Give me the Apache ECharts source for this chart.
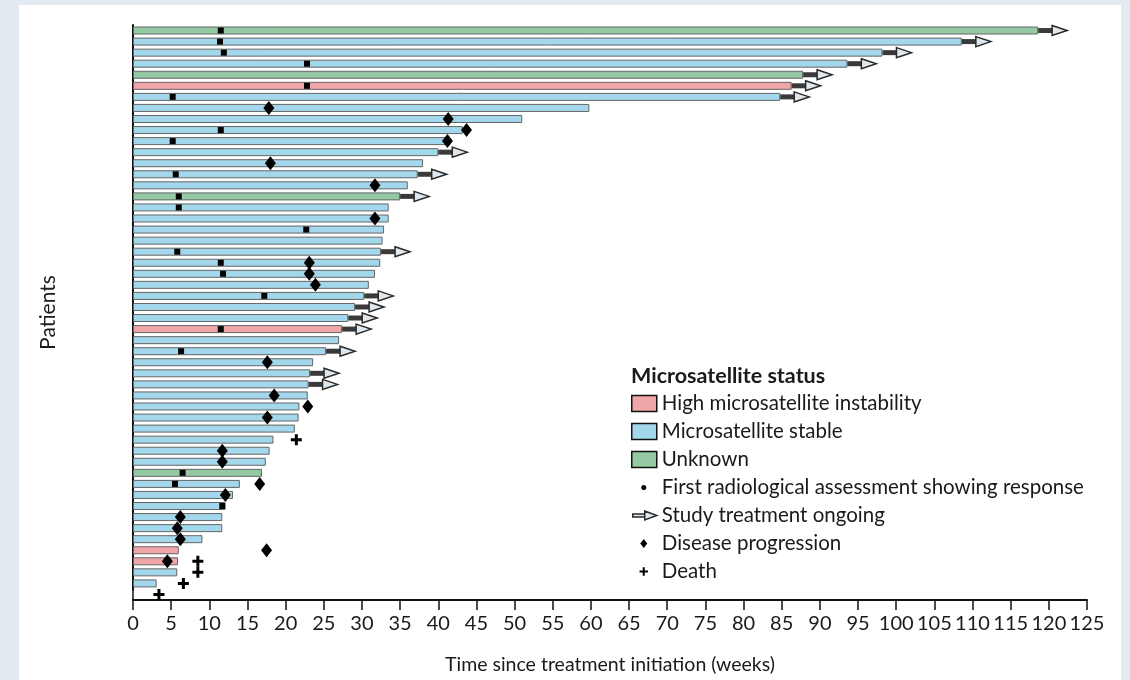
<!DOCTYPE html>
<html>
<head>
<meta charset="utf-8">
<script src="https://cdn.jsdelivr.net/npm/echarts@6/dist/echarts.min.js"></script>
<style>
    html, body { margin: 0; padding: 0; background: #e3eaf1; }
    #panel { position: absolute; left: 19px; top: 5px; width: 1102px; height: 675px; background: #fff; }
    #main { position: absolute; left: 0; top: 0; width: 1130px; height: 680px; }
</style>
</head>
<body>
<div id="panel"></div>
<div id="main"></div>
<script>
// one entry per patient, top to bottom
var duration = [118.6, 108.6, 98.2, 93.6, 87.8, 86.3, 84.8, 59.8, 51.0, 43.2,
    41.1, 40.0, 38.0, 37.3, 36.0, 35.0, 33.5, 33.5, 32.9, 32.7,
    32.5, 32.4, 31.7, 30.9, 30.3, 29.1, 28.2, 27.4, 27.0, 25.3,
    23.6, 23.2, 23.0, 22.9, 21.8, 21.7, 21.2, 18.4, 17.9, 17.4,
    16.9, 14.0, 13.1, 12.1, 11.7, 11.7, 9.1, 6.0, 5.9, 5.8,
    3.1, 0];
// H = high microsatellite instability, S = stable, U = unknown
var msStatus = ['U','S','S','S','U','H','S','S','S','S',
    'S','S','S','S','S','U','S','S','S','S',
    'S','S','S','S','S','S','S','H','S','S',
    'S','S','S','S','S','S','S','S','S','S',
    'U','S','S','S','S','S','S','H','H','S',
    'S','S'];
var responseWk = [11.5, 11.4, 11.9, 22.8, null, 22.8, 5.2, null, null, 11.5,
    5.2, null, null, 5.6, null, 6.0, 6.0, null, 22.7, null,
    5.8, 11.5, 11.8, null, 17.2, null, null, 11.5, null, 6.3,
    null, null, null, null, null, null, null, null, null, null,
    6.5, 5.5, null, 11.7, null, null, null, null, null, null,
    null, null];
var progressionWk = [null, null, null, null, null, null, null, 17.8, 41.3, 43.7,
    41.2, null, 18.0, null, 31.7, null, null, 31.7, null, null,
    null, 23.1, 23.1, 23.9, null, null, null, null, null, null,
    17.6, null, null, 18.5, 22.9, 17.6, null, null, 11.7, 11.7,
    null, 16.6, 12.1, null, 6.2, 5.8, 6.2, 17.5, 4.5, null,
    null, null];
var deathWk = [null, null, null, null, null, null, null, null, null, null,
    null, null, null, null, null, null, null, null, null, null,
    null, null, null, null, null, null, null, null, null, null,
    null, null, null, null, null, null, null, 21.4, null, null,
    null, null, null, null, null, null, null, null, 8.5, 8.5,
    6.6, 3.4];
var ongoing = [1, 1, 1, 1, 1, 1, 1, 0, 0, 0,
    0, 1, 0, 1, 0, 1, 0, 0, 0, 0,
    1, 0, 0, 0, 1, 1, 1, 1, 0, 1,
    0, 1, 1, 0, 0, 0, 0, 0, 0, 0,
    0, 0, 0, 0, 0, 0, 0, 0, 0, 0,
    0, 0];
var patients = duration.map(function (d, i) { return 'P' + (i + 1); });

var statusNames = {
    H: 'High microsatellite instability',
    S: 'Microsatellite stable',
    U: 'Unknown'
};
var statusColors = { H: '#f0a6a6', S: '#a3d7ec', U: '#95c9a4' };

function barData(code) {
    return duration.map(function (d, i) { return msStatus[i] === code ? d : '-'; });
}
function points(arr) {
    var out = [];
    arr.forEach(function (v, i) { if (v !== null) out.push([v, i]); });
    return out;
}
var arrowData = [];
ongoing.forEach(function (o, i) { if (o) arrowData.push([duration[i], i]); });

var font = 'Lato, "Open Sans", sans-serif';
var crossPath = 'path://M4,0h3v4h4v3h-4v4h-3v-4h-4v-3h4z';

var myChart = echarts.init(document.getElementById('main'));

var barSeries = ['H', 'S', 'U'].map(function (code) {
    return {
        name: statusNames[code],
        type: 'bar',
        data: barData(code),
        barWidth: 8,
        barGap: '-100%',
        itemStyle: { color: statusColors[code], borderColor: '#666', borderWidth: 1 },
        z: 2
    };
});

option = {
    animation: false,
    textStyle: { fontFamily: font },
    title: {
        text: 'Microsatellite status',
        left: 626,
        top: 360,
        textStyle: { fontFamily: font, fontSize: 21.5, fontWeight: 'bold', color: '#1a1a1a' }
    },
    legend: {
        orient: 'vertical',
        left: 626,
        top: 388,
        itemWidth: 25,
        itemHeight: 16,
        itemGap: 7,
        textStyle: { fontFamily: font, fontSize: 20.5, lineHeight: 20, color: '#1a1a1a' },
        data: [
            { name: statusNames.H, icon: 'rect', itemStyle: { color: statusColors.H, borderColor: '#111', borderWidth: 1.5 } },
            { name: statusNames.S, icon: 'rect', itemStyle: { color: statusColors.S, borderColor: '#111', borderWidth: 1.5 } },
            { name: statusNames.U, icon: 'rect', itemStyle: { color: statusColors.U, borderColor: '#111', borderWidth: 1.5 } },
            { name: 'First radiological assessment showing response',
              icon: 'path://M0,0M25,16M9.5,8a2.5,2.5 0 1,0 5,0a2.5,2.5 0 1,0 -5,0z',
              itemStyle: { color: '#000', borderWidth: 0 } },
            { name: 'Study treatment ongoing',
              icon: 'path://M0,0M25,16M1,6.5h12v3h-12zM13,3.5L25,8L13,12.5z',
              itemStyle: { color: '#dfe7ef', borderColor: '#2a2a2a', borderWidth: 1.5 } },
            { name: 'Disease progression',
              icon: 'path://M0,0M25,16M12,3.5L15.5,8L12,12.5L8.5,8z',
              itemStyle: { color: '#000', borderWidth: 0 } },
            { name: 'Death',
              icon: 'path://M0,0M25,16M11,3.8h2v3.2h3.2v2h-3.2v3.2h-2v-3.2h-3.2v-2h3.2z',
              itemStyle: { color: '#000', borderWidth: 0 } }
        ]
    },
    grid: { left: 133, right: 43, top: 25, bottom: 79 },
    xAxis: {
        type: 'value',
        min: 0,
        max: 125,
        interval: 5,
        name: 'Time since treatment initiation (weeks)',
        nameLocation: 'middle',
        nameGap: 55,
        nameTextStyle: { fontFamily: font, fontSize: 19.5, color: '#1a1a1a' },
        axisLine: { show: true, lineStyle: { color: '#111', width: 2 } },
        axisTick: { show: true, length: 10, lineStyle: { color: '#111', width: 1.5 } },
        axisLabel: { fontFamily: font, fontSize: 20, color: '#1a1a1a', margin: 14 },
        splitLine: { show: false }
    },
    yAxis: {
        type: 'category',
        data: patients,
        inverse: true,
        name: 'Patients',
        nameLocation: 'middle',
        nameRotate: 90,
        nameGap: 74,
        nameTextStyle: { fontFamily: font, fontSize: 21, color: '#1a1a1a' },
        axisLine: { lineStyle: { color: '#111', width: 2 } },
        axisTick: { length: 10, lineStyle: { color: '#111', width: 1.5 } },
        axisLabel: { show: false }
    },
    series: barSeries.concat([
        {
            name: 'Study treatment ongoing',
            type: 'custom',
            data: arrowData,
            encode: { x: 0, y: 1 },
            itemStyle: { color: '#dfe7ef' },
            z: 3,
            renderItem: function (params, api) {
                var p = api.coord([api.value(0), api.value(1)]);
                return {
                    type: 'group',
                    children: [
                        { type: 'rect', shape: { x: p[0], y: p[1] - 2.5, width: 15, height: 5 },
                          style: { fill: '#3a3a3a' } },
                        { type: 'polygon', shape: { points: [[p[0] + 14, p[1] - 5], [p[0] + 29, p[1]], [p[0] + 14, p[1] + 5]] },
                          style: { fill: '#dfe7ef', stroke: '#2a2a2a', lineWidth: 1.5 } }
                    ]
                };
            }
        },
        {
            name: 'First radiological assessment showing response',
            type: 'scatter',
            data: points(responseWk),
            symbol: 'rect',
            symbolSize: 6,
            itemStyle: { color: '#000', opacity: 1 },
            z: 4
        },
        {
            name: 'Disease progression',
            type: 'scatter',
            data: points(progressionWk),
            symbol: 'diamond',
            symbolSize: [11, 14],
            itemStyle: { color: '#000', opacity: 1 },
            z: 4
        },
        {
            name: 'Death',
            type: 'scatter',
            data: points(deathWk),
            symbol: crossPath,
            symbolSize: 11,
            itemStyle: { color: '#000', opacity: 1 },
            z: 4
        }
    ])
};
myChart.setOption(option);
</script>
</body>
</html>
